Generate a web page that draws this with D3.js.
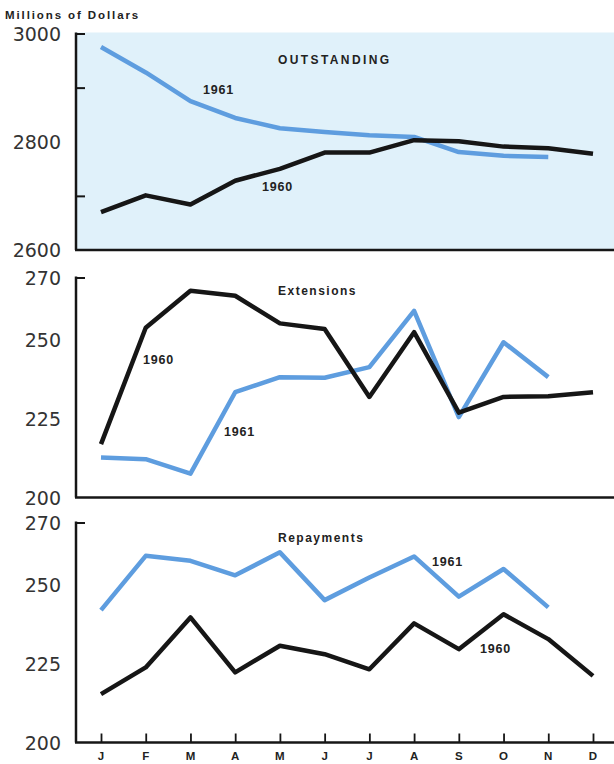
<!DOCTYPE html>
<html><head><meta charset="utf-8">
<script src="https://cdn.jsdelivr.net/npm/d3@7"></script>
<style>body{margin:0;background:#fff;}svg{display:block;}</style>
</head><body>
<script>
const months = ["J","F","M","A","M","J","J","A","S","O","N","D"];
const outstanding1960 = [2670,2701,2684,2728,2750,2780,2780,2803,2801,2791,2788,2778];
const outstanding1961 = [2975,2928,2875,2844,2825,2818,2812,2809,2781,2774,2772];
const extensions1960 = [217,254,265.8,264.2,255.4,253.6,232,252.6,227,232,232.2,233.5];
const extensions1961 = [212.7,212.2,207.6,233.5,238.3,238.1,241.5,259.4,225.6,249.4,238.3];
const repayments1960 = [215.4,223.9,239.8,222.3,230.8,228.1,223.3,237.9,229.7,240.8,232.9,221.2];
const repayments1961 = [242.1,259.4,257.8,253.2,260.5,245.3,252.5,259.2,246.4,255.2,243];
const outTicks = [3000,2800,2600];
const outMinor = [2900,2700];
const flowTicks = [270,250,225,200];

const W = 614, H = 764;
const svg = d3.select("body").append("svg").attr("width", W).attr("height", H);
const x = d3.scaleLinear().domain([0, 11]).range([101, 593]);
const axisX = 76;
const blue = "#5e9ddf", black = "#161616";

const panels = [
  {domain:[2600,3000], range:[250,33.5], ticks:outTicks, minor:outMinor, bg:true,
   s1960:outstanding1960, s1961:outstanding1961, title:"OUTSTANDING", titleX:278, titleY:64, titleLS:2.4,
   l1961:[203,94], l1960:[262,191]},
  {domain:[200,270], range:[497.5,277.5], ticks:flowTicks, minor:[], bg:false,
   s1960:extensions1960, s1961:extensions1961, title:"Extensions", titleX:278, titleY:295, titleLS:1.5,
   l1960:[143,364], l1961:[224,436]},
  {domain:[200,270], range:[742.5,522.5], ticks:flowTicks, minor:[], bg:false,
   s1960:repayments1960, s1961:repayments1961, title:"Repayments", titleX:278, titleY:542, titleLS:1.5,
   l1961:[432,566], l1960:[480,653], monthAxis:true}
];

svg.append("text").attr("x", 5).attr("y", 19)
  .attr("font-family", "Liberation Sans, Arial, sans-serif").attr("font-weight", "bold")
  .attr("font-size", 11.5).attr("letter-spacing", 1.9).attr("fill", "#222")
  .text("Millions of Dollars");

panels.forEach(p => {
  const y = d3.scaleLinear().domain(p.domain).range(p.range);
  const g = svg.append("g");
  if (p.bg) {
    g.append("rect").attr("x", axisX).attr("y", y(p.domain[1]) - 1)
      .attr("width", W - axisX).attr("height", y(p.domain[0]) - y(p.domain[1]) + 1)
      .attr("fill", "#e0f1fa");
  }
  const yAxis = d3.axisRight(y).tickValues([p.domain[1]].concat(p.minor)).tickSize(9).tickFormat("");
  const ya = g.append("g").attr("transform", `translate(${axisX},0)`).call(yAxis);
  ya.select(".domain").remove();
  ya.selectAll("line").attr("stroke", black).attr("stroke-width", 2);
  g.append("line").attr("x1", axisX).attr("x2", axisX).attr("y1", y(p.domain[1]) - 1).attr("y2", y(p.domain[0]))
    .attr("stroke", black).attr("stroke-width", 2.5);
  const xAxis = d3.axisTop(x).tickValues(p.monthAxis ? d3.range(12) : []).tickSize(9).tickFormat("");
  const xa = g.append("g").attr("transform", `translate(0,${y(p.domain[0])})`).call(xAxis);
  xa.select(".domain").remove();
  xa.selectAll("line").attr("stroke", black).attr("stroke-width", 1.8);
  g.append("line").attr("x1", axisX - 1).attr("x2", W).attr("y1", y(p.domain[0])).attr("y2", y(p.domain[0]))
    .attr("stroke", black).attr("stroke-width", 2.5);
  g.selectAll(".yl").data(p.ticks).enter().append("text")
    .attr("x", 61).attr("y", d => y(d) + 7).attr("text-anchor", "end")
    .attr("font-family", "DejaVu Sans, sans-serif").attr("font-size", 19).attr("fill", "#333")
    .text(d => d);
  if (p.monthAxis) {
    g.selectAll(".ml").data(months).enter().append("text")
      .attr("x", (d, i) => x(i)).attr("y", 760).attr("text-anchor", "middle")
      .attr("font-family", "Liberation Sans, Arial, sans-serif").attr("font-weight", "bold")
      .attr("font-size", 11.5).attr("fill", "#222").text(d => d);
  }
  const line = d3.line().x((d, i) => x(i)).y(d => y(d));
  g.append("path").datum(p.s1961).attr("d", line).attr("fill", "none")
    .attr("stroke", blue).attr("stroke-width", 4.5).attr("stroke-linejoin", "round");
  g.append("path").datum(p.s1960).attr("d", line).attr("fill", "none")
    .attr("stroke", black).attr("stroke-width", 4.5).attr("stroke-linejoin", "round");
  g.append("text").attr("x", p.titleX).attr("y", p.titleY)
    .attr("font-family", "Liberation Sans, Arial, sans-serif").attr("font-weight", "bold")
    .attr("font-size", 12).attr("letter-spacing", p.titleLS).attr("fill", "#222").text(p.title);
  [["1961", p.l1961], ["1960", p.l1960]].forEach(([t, pos]) => {
    g.append("text").attr("x", pos[0]).attr("y", pos[1])
      .attr("font-family", "Liberation Sans, Arial, sans-serif").attr("font-weight", "bold")
      .attr("font-size", 12.5).attr("letter-spacing", 0.8).attr("fill", "#222").text(t);
  });
});
</script>
</body></html>
